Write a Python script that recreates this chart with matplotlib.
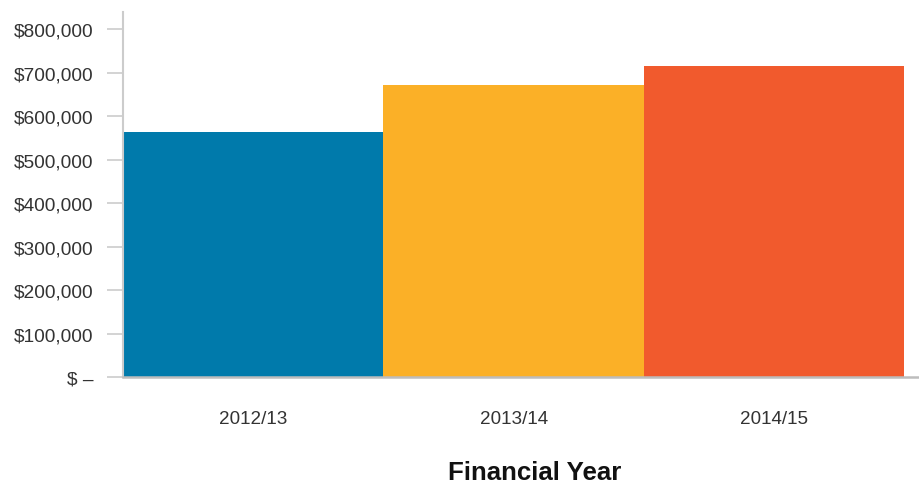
import matplotlib.pyplot as plt
import matplotlib.ticker as mticker

years = ["2012/13", "2013/14", "2014/15"]
amounts = [563000, 672000, 716000]
colors = ["#007AAB", "#FBB027", "#F15A2D"]
yticks = [0, 100000, 200000, 300000, 400000, 500000, 600000, 700000, 800000]

plt.rcParams["font.family"] = ["Liberation Sans", "DejaVu Sans"]

fig = plt.figure(figsize=(9.2, 4.85), dpi=100)
ax = fig.add_axes([123 / 920, 1 - 378 / 485, 797 / 920, 365 / 485])

x = range(len(years))
ax.bar(x, amounts, width=1.0, color=colors, zorder=2)

ax.set_xlim(-0.5, 2.56)
ax.set_ylim(0, 840000)
ax.set_xticks(list(x))
ax.set_xticklabels(years)
ax.set_yticks(yticks)


def money(v, pos):
    if v == 0:
        return "$ \u2013"
    return "${:,.0f}".format(v)


ax.yaxis.set_major_formatter(mticker.FuncFormatter(money))

for s in ["top", "right"]:
    ax.spines[s].set_visible(False)
ax.spines["left"].set_color("#cccccc")
ax.spines["left"].set_linewidth(1.5)
ax.spines["bottom"].set_color("#bdbdbd")
ax.spines["bottom"].set_linewidth(1.8)
ax.spines["bottom"].set_zorder(3)

ax.tick_params(axis="y", length=11.5, width=1.2, color="#cccccc", pad=10,
               labelsize=13.8, labelcolor="#333333")
ax.tick_params(axis="x", length=0, pad=24, labelsize=13.6, labelcolor="#333333")

fig.text(535 / 920, 1 - 473 / 485, "Financial Year", ha="center", va="center",
         fontsize=18.6, fontweight="bold", color="#111111")

fig.savefig("out.png", dpi=100)
